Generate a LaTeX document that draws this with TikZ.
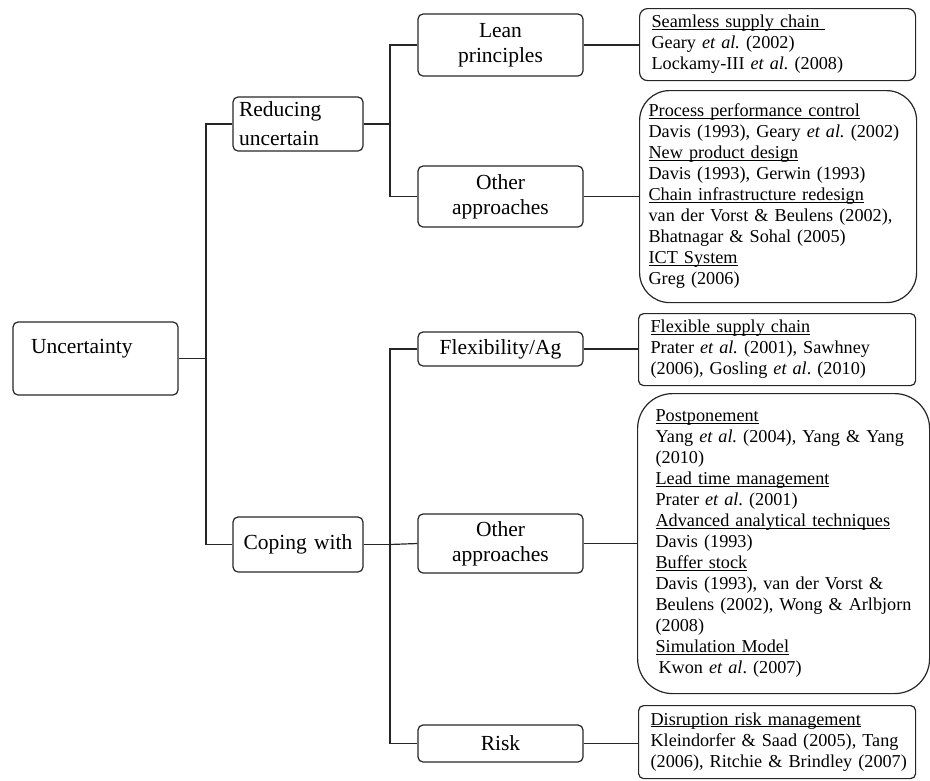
\documentclass[tikz,border=0pt]{standalone}
\usepackage{fontspec}
\setmainfont{Liberation Serif}
\usetikzlibrary{calc}
\frenchspacing
\newcommand{\refhead}[1]{\underline{\smash{#1}}\vphantom{Ay}}

\tikzset{
  box/.style={draw=black!85, line width=1.2pt, rounded corners=5pt, inner ysep=1pt},
  bigtext/.style={font=\fontsize{21.5}{25}\selectfont},
  midbox/.style={box, bigtext, align=center, text width=153pt, inner xsep=6pt, minimum width=165pt},
  refbox/.style={box, font=\fontsize{18.2}{21}\selectfont, align=left, anchor=north west},
  link/.style={draw=black!85, line width=1.2pt}
}

\begin{document}
\begin{tikzpicture}[x=1pt,y=-1pt]
\useasboundingbox (0,0) rectangle (930,780);
% first and second level
\node[box, bigtext, align=left, text width=129pt, inner xsep=18pt, minimum height=73pt] (unc) at (95.5,358.5) {Uncertainty\\\mbox{}};
\node[box, font=\fontsize{21.5}{29}\selectfont, align=left, text width=118pt, inner xsep=6pt, minimum height=54pt] (red) at (298,124) {Reducing\\uncertain};
\node[box, bigtext, align=center, text width=118pt, inner xsep=6pt, minimum height=55pt] (cop) at (298,544.5) {Coping with};
% approaches
\node[midbox, minimum height=62pt] (lean) at (500.5,45) {Lean\\principles};
\node[midbox, minimum height=61pt] (oth1) at (500.5,196.5) {Other\\approaches};
\node[midbox, minimum height=34pt] (flex) at (500.5,349) {Flexibility/Ag};
\node[midbox, minimum height=59pt] (oth2) at (500.5,543.5) {Other\\approaches};
\node[midbox, minimum height=37pt] (risk) at (500.5,743.5) {Risk};
% references
\node[refbox, rounded corners=8pt, text width=252pt, inner xsep=12pt, minimum height=72pt] (seam) at (639,8)
  {\refhead{Seamless supply chain\ }\\
   Geary \textit{et al.} (2002)\\
   Lockamy-III \textit{et al.} (2008)};
\node[refbox, rounded corners=30pt, text width=259pt, inner xsep=9pt, minimum height=212pt] (proc) at (639,90)
  {\refhead{Process performance control}\\
   Davis (1993), Geary \textit{et al.} (2002)\\
   \refhead{New product design}\\
   Davis (1993), Gerwin (1993)\\
   \refhead{Chain infrastructure redesign}\\
   van der Vorst \& Beulens (2002),\\
   Bhatnagar \& Sohal (2005)\\
   \refhead{ICT System}\\
   Greg (2006)};
\node[refbox, text width=253pt, inner xsep=12pt, minimum height=72pt] (flexsc) at (638,313)
  {\refhead{Flexible supply chain}\\
   Prater \textit{et al.} (2001), Sawhney\\
   (2006), Gosling \textit{et al}. (2010)};
\node[refbox, rounded corners=35pt, text width=256pt, inner xsep=18pt, minimum height=300pt] (post) at (637,393)
  {\refhead{Postponement}\\
   Yang \textit{et al.} (2004), Yang \& Yang\\
   (2010)\\
   \refhead{Lead time management}\\
   Prater \textit{et al}. (2001)\\
   \refhead{Advanced analytical techniques}\\
   Davis (1993)\\
   \refhead{Buffer stock}\\
   Davis (1993), van der Vorst \&\\
   \mbox{Beulens (2002), Wong \& Arlbjorn}\\
   (2008)\\
   \refhead{Simulation Model}\\
   \hspace{3pt}Kwon \textit{et al}. (2007)};
\node[refbox, text width=253pt, inner xsep=12pt, minimum height=73pt] (disr) at (638,705)
  {\refhead{Disruption risk management}\\
   Kleindorfer \& Saad (2005), Tang\\
   \mbox{(2006), Ritchie \& Brindley (2007)}};
% connectors
\coordinate (jA) at (206,358.5);
\coordinate (jB) at (390,124);
\coordinate (jC) at (390,544.5);
\draw[link] (unc.east) -- (jA);
\draw[link] (red.west) -| (jA) |- (cop.west);
\draw[link] (red.east) -- (jB);
\draw[link] (lean.west) -| (jB) |- (oth1.west);
\draw[link] (cop.east) -- (jC);
\draw[link] (flex.west) -| (jC) |- (risk.west);
\draw[link] (jC) -- (oth2.west);
\draw[link] (lean.east) -- (lean.east -| seam.west);
\draw[link] (oth1.east) -- (oth1.east -| proc.west);
\draw[link] (flex.east) -- (flex.east -| flexsc.west);
\draw[link] (oth2.east) -- (oth2.east -| post.west);
\draw[link] (risk.east) -- (risk.east -| disr.west);
\end{tikzpicture}
\end{document}
